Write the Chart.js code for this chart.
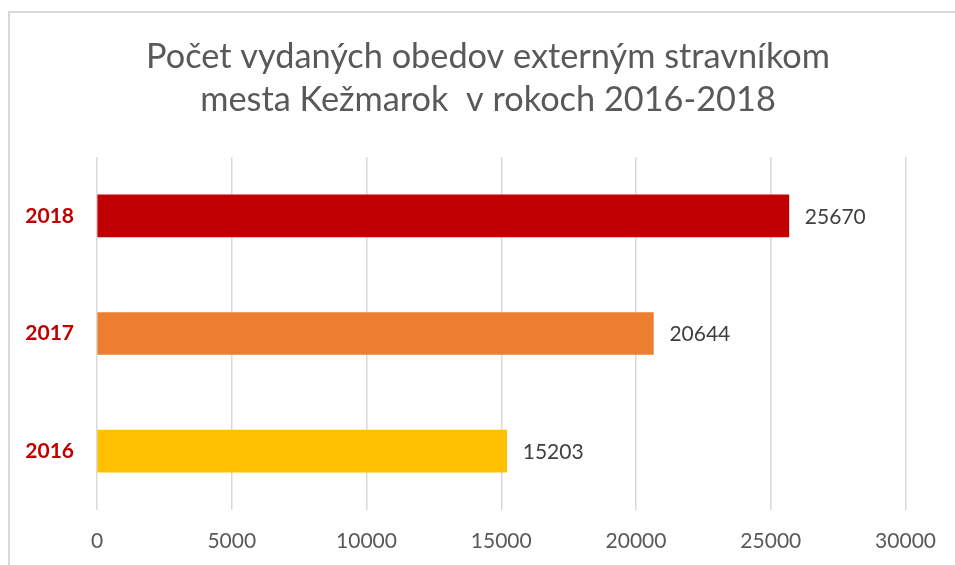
<!DOCTYPE html>
<html>
<head>
<meta charset="utf-8">
<script src="https://cdn.jsdelivr.net/npm/chart.js@4/dist/chart.umd.min.js"></script>
<style>
  html, body { margin: 0; padding: 0; background: #ffffff; }
  #wrap { position: relative; width: 955px; height: 565px; overflow: hidden; }
  #frame { position: absolute; left: 8px; top: 11px; width: 1000px; height: 600px;
           border: 2px solid #d9d9d9; box-sizing: border-box; }
  canvas { position: absolute; left: 0; top: 0; }
</style>
</head>
<body>
<div id="wrap">
  <div id="frame"></div>
  <canvas id="c" width="955" height="565"></canvas>
</div>
<script>
const titleLines = ["Počet vydaných obedov externým stravníkom", "mesta Kežmarok  v rokoch 2016-2018"];
const categories = ["2018", "2017", "2016"];
const values = [25670, 20644, 15203];
const barColors = ["#C00000", "#ED7D31", "#FFC000"];
const xTicks = [0, 5000, 10000, 15000, 20000, 25000, 30000];

const FONT = "Lato, 'Open Sans', sans-serif";

const titleText = {
  id: 'titleText',
  afterDraw(chart) {
    const ctx = chart.ctx;
    ctx.save();
    ctx.font = "34.3px " + FONT;
    ctx.fillStyle = "#595959";
    ctx.textAlign = "center";
    ctx.textBaseline = "middle";
    titleLines.forEach((line, i) => ctx.fillText(line, 488, 57 + i * 43));
    ctx.restore();
  }
};

const valueLabels = {
  id: 'valueLabels',
  afterDatasetsDraw(chart) {
    const ctx = chart.ctx;
    const meta = chart.getDatasetMeta(0);
    ctx.save();
    ctx.font = "21px " + FONT;
    ctx.fillStyle = "#404040";
    ctx.textAlign = "left";
    ctx.textBaseline = "middle";
    meta.data.forEach((bar, i) => {
      ctx.fillText(String(values[i]), bar.x + 16, bar.y + 1);
    });
    ctx.restore();
  }
};

new Chart(document.getElementById('c'), {
  type: 'bar',
  data: {
    labels: categories,
    datasets: [{
      data: values,
      backgroundColor: barColors,
      borderWidth: 0,
      barThickness: 42
    }]
  },
  options: {
    indexAxis: 'y',
    responsive: false,
    animation: false,
    events: [],
    layout: { padding: { left: 0, right: 40, top: 157, bottom: 0 } },
    plugins: {
      legend: { display: false },
      tooltip: { enabled: false },
      title: { display: false }
    },
    scales: {
      x: {
        min: 0, max: 30000,
        afterBuildTicks(scale) { scale.ticks = xTicks.map(v => ({ value: v })); },
        afterFit(scale) { scale.height = 55; },
        grid: { color: "#d9d9d9", lineWidth: 1.5, drawTicks: false },
        border: { display: false },
        ticks: { color: "#595959", font: { family: FONT, size: 21 }, padding: 19, maxRotation: 0,
                 callback: (v) => String(v) }
      },
      y: {
        afterFit(scale) { scale.width = 97; },
        grid: { display: false, drawTicks: false },
        border: { display: false },
        ticks: { color: "#C00000", font: { family: FONT, size: 21, weight: 'bold' }, padding: 23 }
      }
    }
  },
  plugins: [valueLabels, titleText]
});
</script>
</body>
</html>
